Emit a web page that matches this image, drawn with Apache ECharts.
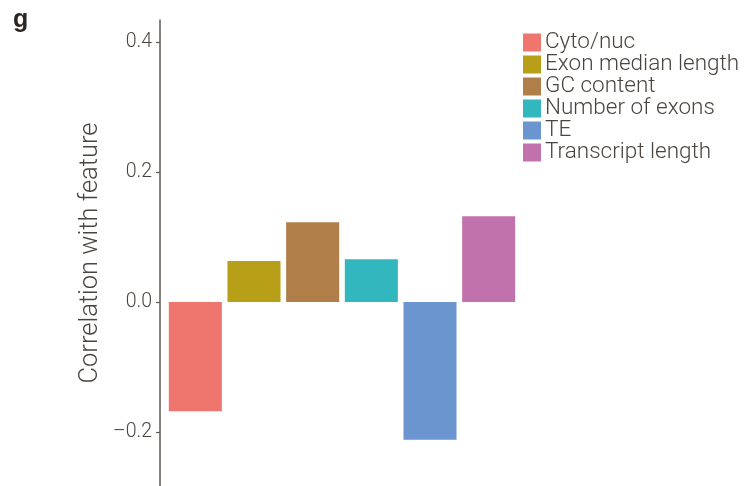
<!DOCTYPE html>
<html>
<head>
<meta charset="utf-8">
<script src="https://cdn.jsdelivr.net/npm/echarts@6/dist/echarts.min.js"></script>
<style>
  html, body { margin: 0; padding: 0; background: #fff; }
  #chart { width: 752px; height: 486px; }
  #tag { position: absolute; left: 13px; top: 4px; font: bold 25px "Liberation Sans", Arial, sans-serif; color: #2b2620; }
</style>
</head>
<body>
<div id="chart"></div>
<div id="tag">g</div>
<script>
// Features and their correlation with the measured property
const features = ['Cyto/nuc', 'Exon median length', 'GC content', 'Number of exons', 'TE', 'Transcript length'];
const correlations = [-0.168, 0.063, 0.123, 0.066, -0.212, 0.132];
const featureColors = ['#EE766E', '#B79F18', '#B07E48', '#33B7BF', '#6A95CF', '#C172AC'];
const yTicks = [-0.2, 0.0, 0.2, 0.4];

const fontFamily = 'Roboto, "Liberation Sans", sans-serif';
const textColor = '#4a4540';

// One series per feature so each gets its own legend entry; stacking keeps them in a single slot per category
const series = features.map((name, i) => ({
  name: name,
  type: 'bar',
  stack: 'all',
  barCategoryGap: '9.6%',
  itemStyle: { color: featureColors[i] },
  data: features.map((_, j) => (j === i ? correlations[i] : '-'))
}));

const chart = echarts.init(document.getElementById('chart'), null, { renderer: 'canvas' });
chart.setOption({
  animation: false,
  grid: { left: 166, right: 234, top: 20, bottom: 0, containLabel: false },
  legend: {
    orient: 'vertical',
    left: 523,
    top: 31,
    padding: 0,
    itemWidth: 18,
    itemHeight: 18,
    itemGap: -1,
    icon: 'rect',
    selectedMode: false,
    textStyle: { fontFamily: fontFamily, fontSize: 22.5, fontWeight: 300, color: textColor, padding: [0, 0, 0, -1] },
    data: features
  },
  xAxis: {
    type: 'category',
    data: features,
    show: false
  },
  yAxis: {
    type: 'value',
    min: -0.283,
    max: 0.434,
    offset: 6,
    name: 'Correlation with feature',
    nameLocation: 'middle',
    nameGap: 56,
    nameTextStyle: { fontFamily: fontFamily, fontSize: 25.5, fontWeight: 300, color: textColor },
    splitLine: { show: false },
    axisLine: { show: true, lineStyle: { color: '#5f5852', width: 1.5 } },
    axisTick: { show: true, length: 4, customValues: yTicks, lineStyle: { color: '#5f5852', width: 1.2 } },
    axisLabel: {
      customValues: yTicks,
      margin: 8,
      fontFamily: fontFamily,
      fontSize: 19.5,
      fontWeight: 300,
      color: textColor,
      formatter: v => (v < 0 ? '\u2013' + Math.abs(v).toFixed(1) : v.toFixed(1))
    }
  },
  series: series
});
</script>
</body>
</html>
